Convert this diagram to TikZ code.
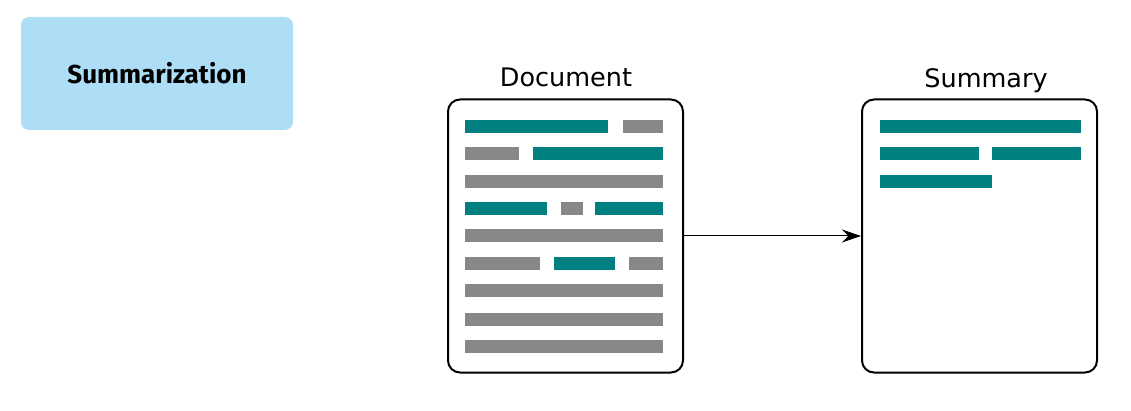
\documentclass[tikz,border=0pt]{standalone}
\usepackage{fontspec}
\setmainfont{DejaVu Sans}
\newfontfamily\taskfont{Fira Sans}
\usetikzlibrary{arrows.meta}

\definecolor{taskblue}{HTML}{ADDEF5}
\definecolor{barteal}{HTML}{008080}
\definecolor{bargray}{HTML}{888888}

\tikzset{
  page/.style = {draw, line width=2pt, rounded corners=12pt, minimum width=235pt, minimum height=273pt, inner sep=0pt},
  title/.style = {anchor=base, font=\fontsize{25.5}{30}\selectfont},
}

\begin{document}
\begin{tikzpicture}[x=1pt, y=-1pt]
        \useasboundingbox (0,0) rectangle (1131,411);

        \node[fill=taskblue, rounded corners=8pt, minimum width=272pt, minimum height=113pt,
              font=\taskfont\bfseries\fontsize{26}{30}\selectfont] (task) at (157,73.5) {Summarization};

        \node[page] (doc) at (565.5,236) {};
        \node[page] (sum) at (979.5,236) {};
        \node[title] (doctitle) at (566,87) {Document};
        \node[title] (sumtitle) at (986,88) {Summary};

        \draw[line width=1pt, -{Stealth[length=19pt, width=13pt]}] (doc.east) -- (sum.west);

        % lines of the document
        \foreach \c/\a/\b/\y in {barteal/465/608/120, bargray/623/663/120,
                                 bargray/465/519/147, barteal/533/663/147,
                                 bargray/465/663/175,
                                 barteal/465/547/202, bargray/561/583/202, barteal/595/663/202,
                                 bargray/465/663/229,
                                 bargray/465/540/257, barteal/554/615/257, bargray/629/663/257,
                                 bargray/465/663/284, bargray/465/663/313, bargray/465/663/340}
            \fill[\c] (\a,\y) rectangle (\b,\y+13);

        % lines of the summary
        \foreach \a/\b/\y in {880/1081/120, 880/979/147, 992/1081/147, 880/992/175}
            \fill[barteal] (\a,\y) rectangle (\b,\y+13);
    \end{tikzpicture}
\end{document}
